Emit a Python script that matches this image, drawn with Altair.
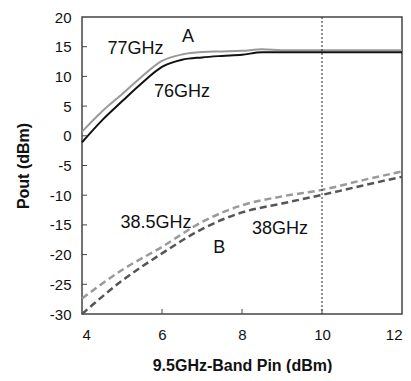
import altair as alt
import pandas as pd

# ---- data ----
pin = [4, 4.5, 5, 5.5, 6, 6.5, 7, 7.5, 8, 8.5, 9, 10, 11, 12]
p77 = [0.7, 4.1, 7.0, 10.0, 12.6, 13.7, 14.1, 14.2, 14.3, 14.55, 14.4, 14.4, 14.4, 14.4]
p76 = [-1.1, 2.6, 5.8, 8.9, 11.6, 12.8, 13.2, 13.45, 13.65, 14.05, 14.05, 14.05, 14.05, 14.05]

pin_b = [4, 5, 6, 7, 8, 9, 10, 11, 12]
p385 = [-27.4, -22.6, -18.7, -14.5, -11.7, -10.2, -9.1, -7.5, -6.0]
p38 = [-30.0, -24.4, -19.8, -15.7, -12.9, -11.4, -9.95, -8.4, -6.9]

series_names = ["77GHz", "76GHz", "38.5GHz", "38GHz"]
series_colors = ["#999999", "#111111", "#9a9a9a", "#555555"]

labels = ["A", "77GHz", "76GHz", "38.5GHz", "38GHz", "B"]
label_x = [6.65, 5.34, 6.5, 5.85, 8.95, 7.43]
label_y = [16.6, 14.6, 7.3, -14.7, -15.7, -18.9]

x_ticks = [4, 6, 8, 10, 12]
y_ticks = [-30, -25, -20, -15, -10, -5, 0, 5, 10, 15, 20]
marker_pin = [10]

rows = []
for n, ys in zip(series_names[:2], [p77, p76]):
    for x, y in zip(pin, ys):
        rows.append({"pin": x, "pout": y, "s": n})
for n, ys in zip(series_names[2:], [p385, p38]):
    for x, y in zip(pin_b, ys):
        rows.append({"pin": x, "pout": y, "s": n})
df = pd.DataFrame(rows)

W, H = 320, 297
xs = alt.Scale(domain=[4, 12], nice=False)
ys = alt.Scale(domain=[-30, 20], nice=False)

FONT = "Liberation Sans"
xax = alt.Axis(values=x_ticks, title="9.5GHz-Band Pin (dBm)", grid=False, ticks=False,
               labelPadding=13, titlePadding=15, domain=False, labelOverlap=False,
               labelExpr="'' + datum.value",
               labelFont=FONT, labelFontSize=15, labelColor="#111",
               titleFont=FONT, titleFontSize=16, titleFontWeight="bold", titleColor="#111")
yax = alt.Axis(values=y_ticks, title="Pout (dBm)", grid=False, ticks=False,
               labelPadding=11, titlePadding=18, domain=False, labelOverlap=False,
               labelExpr="'' + datum.value",
               labelFont=FONT, labelFontSize=15, labelColor="#111",
               titleFont=FONT, titleFontSize=16, titleFontWeight="bold", titleColor="#111")

cscale = alt.Scale(domain=series_names, range=series_colors)

solid = alt.Chart(df[df.s.isin(series_names[:2])]).mark_line(
    interpolate="monotone", strokeWidth=2).encode(
    x=alt.X("pin:Q", scale=xs, axis=xax),
    y=alt.Y("pout:Q", scale=ys, axis=yax),
    color=alt.Color("s:N", scale=cscale, legend=None),
    detail="s:N",
)

dashed = alt.Chart(df[df.s.isin(series_names[2:])]).mark_line(
    interpolate="monotone", strokeWidth=2.5, strokeDash=[7, 4]).encode(
    x=alt.X("pin:Q", scale=xs, axis=xax),
    y=alt.Y("pout:Q", scale=ys, axis=yax),
    color=alt.Color("s:N", scale=cscale, legend=None),
    detail="s:N",
)

vline = alt.Chart(pd.DataFrame({"x": marker_pin})).mark_rule(
    color="#222", strokeWidth=1, strokeDash=[2, 2]).encode(
    x=alt.X("x:Q", scale=xs, axis=xax))

xtick_df = pd.DataFrame({"x": x_ticks[1:-1], "y": [-30] * 3})
xtk = alt.Chart(xtick_df).mark_rule(color="#444", strokeWidth=1).encode(
    x=alt.X("x:Q", scale=xs, axis=xax), y=alt.Y("y:Q", scale=ys, axis=yax), y2=alt.value(H - 5))

ytick_df = pd.DataFrame({"y": y_ticks[1:-1]})
ytk = alt.Chart(ytick_df).mark_rule(color="#444", strokeWidth=1).encode(
    y=alt.Y("y:Q", scale=ys, axis=yax), x=alt.value(0), x2=alt.value(5))

txt_df = pd.DataFrame({"t": labels, "x": label_x, "y": label_y})
txt = alt.Chart(txt_df).mark_text(font=FONT, fontSize=18, color="#111", baseline="middle").encode(
    x=alt.X("x:Q", scale=xs, axis=xax), y=alt.Y("y:Q", scale=ys, axis=yax), text="t:N")

chart = alt.layer(solid, dashed, vline, xtk, ytk, txt).properties(
    width=W, height=H,
    autosize=alt.AutoSizeParams(type="none"),
    padding={"left": 74, "top": 9, "right": 1, "bottom": 59},
).configure_view(stroke="#444", strokeWidth=1.5)

chart.save("out.html", embed_options={"renderer": "svg", "actions": False})
